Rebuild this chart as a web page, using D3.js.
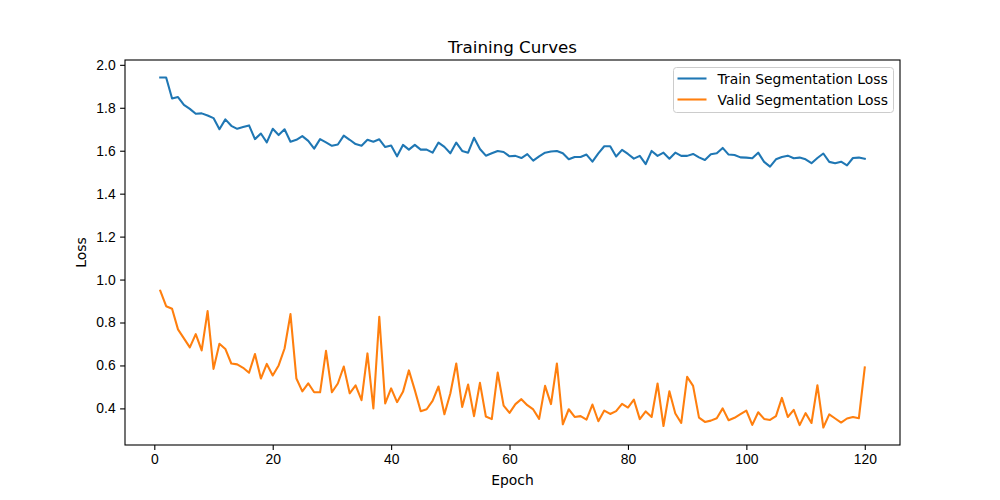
<!DOCTYPE html>
<html>
<head>
<meta charset="utf-8">
<script src="https://cdn.jsdelivr.net/npm/d3@7"></script>
<style>
  body { margin: 0; background: #fff; }
  svg { font-family: "DejaVu Sans", sans-serif; }
  .axis path, .axis line { stroke: #000; stroke-width: 1.1px; }
  .axis text { font-size: 13.9px; fill: #000; }
</style>
</head>
<body>
<div id="chart-area"></div>
<script>
// values, epochs 1..120
const epochs = d3.range(1, 121);

const trainLoss = [
  1.941, 1.941, 1.843, 1.850, 1.814, 1.795, 1.772, 1.774, 1.764, 1.752,
  1.700, 1.746, 1.716, 1.702, 1.710, 1.718, 1.654, 1.680, 1.639, 1.702,
  1.673, 1.700, 1.642, 1.651, 1.668, 1.646, 1.610, 1.654, 1.639, 1.623,
  1.629, 1.670, 1.651, 1.631, 1.623, 1.651, 1.642, 1.653, 1.617, 1.624,
  1.574, 1.627, 1.605, 1.627, 1.605, 1.605, 1.591, 1.638, 1.618, 1.588,
  1.638, 1.599, 1.591, 1.660, 1.608, 1.577, 1.588, 1.599, 1.594, 1.574,
  1.576, 1.566, 1.584, 1.554, 1.574, 1.591, 1.596, 1.599, 1.588, 1.560,
  1.571, 1.571, 1.582, 1.549, 1.588, 1.621, 1.621, 1.573, 1.604, 1.585,
  1.563, 1.576, 1.538, 1.599, 1.576, 1.591, 1.563, 1.591, 1.576, 1.576,
  1.585, 1.569, 1.557, 1.584, 1.588, 1.613, 1.582, 1.580, 1.569, 1.568,
  1.565, 1.591, 1.548, 1.526, 1.560, 1.571, 1.577, 1.565, 1.568, 1.560,
  1.542, 1.566, 1.587, 1.548, 1.542, 1.549, 1.532, 1.566, 1.568, 1.562
];

const validLoss = [
  0.948, 0.876, 0.864, 0.768, 0.726, 0.684, 0.746, 0.670, 0.853, 0.584,
  0.701, 0.677, 0.609, 0.605, 0.589, 0.566, 0.653, 0.539, 0.607, 0.553,
  0.600, 0.679, 0.839, 0.539, 0.479, 0.517, 0.475, 0.475, 0.668, 0.475,
  0.516, 0.595, 0.470, 0.507, 0.438, 0.656, 0.400, 0.827, 0.423, 0.493,
  0.429, 0.477, 0.577, 0.485, 0.387, 0.396, 0.435, 0.502, 0.373, 0.469,
  0.609, 0.407, 0.511, 0.364, 0.519, 0.362, 0.350, 0.567, 0.413, 0.379,
  0.420, 0.443, 0.415, 0.395, 0.351, 0.505, 0.420, 0.609, 0.326, 0.396,
  0.360, 0.364, 0.348, 0.418, 0.340, 0.390, 0.374, 0.387, 0.421, 0.404,
  0.441, 0.350, 0.386, 0.360, 0.516, 0.318, 0.480, 0.376, 0.332, 0.547,
  0.505, 0.357, 0.337, 0.343, 0.354, 0.400, 0.345, 0.356, 0.373, 0.390,
  0.323, 0.382, 0.351, 0.346, 0.364, 0.449, 0.360, 0.393, 0.322, 0.378,
  0.332, 0.508, 0.311, 0.372, 0.353, 0.334, 0.353, 0.360, 0.354, 0.591
];

const seriesNames = ["Train Segmentation Loss", "Valid Segmentation Loss"];
const seriesColors = ["#1f77b4", "#ff7f0e"];
const xTicks = [0, 20, 40, 60, 80, 100, 120];
const yTicks = [0.4, 0.6, 0.8, 1.0, 1.2, 1.4, 1.6, 1.8, 2.0];

let width = 1000, height = 500;
let margin = {top: 60, right: 100, bottom: 55, left: 125};

let svg = d3.select("#chart-area").append("svg")
  .attr("width", width)
  .attr("height", height);

// matplotlib style 5% margins around the data
let xPad = (d3.max(epochs) - d3.min(epochs)) * 0.05;
let allLoss = trainLoss.concat(validLoss);
let yPad = (d3.max(allLoss) - d3.min(allLoss)) * 0.05;

let x = d3.scaleLinear()
  .domain([d3.min(epochs) - xPad, d3.max(epochs) + xPad])
  .range([margin.left, width - margin.right]);

let y = d3.scaleLinear()
  .domain([d3.min(allLoss) - yPad, d3.max(allLoss) + yPad])
  .range([height - margin.bottom, margin.top]);

let line = d3.line()
  .x((d, i) => x(epochs[i]))
  .y(d => y(d));

[trainLoss, validLoss].forEach((s, k) => {
  svg.append("path")
    .datum(s)
    .attr("fill", "none")
    .attr("stroke", seriesColors[k])
    .attr("stroke-width", 2.08)
    .attr("stroke-linejoin", "round")
    .attr("stroke-linecap", "square")
    .attr("d", line);
});

// axes
let xAxis = d3.axisBottom(x).tickValues(xTicks).tickSize(4.9).tickPadding(4).tickFormat(d3.format("d"));
svg.append("g")
  .attr("class", "axis")
  .attr("transform", "translate(0," + (height - margin.bottom) + ")")
  .call(xAxis)
  .call(g => g.select(".domain").remove());

let yAxis = d3.axisLeft(y).tickValues(yTicks).tickSize(4.9).tickPadding(4.5).tickFormat(d3.format(".1f"));
svg.append("g")
  .attr("class", "axis")
  .attr("transform", "translate(" + margin.left + ",0)")
  .call(yAxis)
  .call(g => g.select(".domain").remove());

// frame
svg.append("rect")
  .attr("x", margin.left)
  .attr("y", margin.top)
  .attr("width", width - margin.left - margin.right)
  .attr("height", height - margin.top - margin.bottom)
  .attr("fill", "none")
  .attr("stroke", "#000")
  .attr("stroke-width", 1.1);

// title and labels
svg.append("text")
  .attr("x", (margin.left + width - margin.right) / 2)
  .attr("y", margin.top - 7)
  .attr("text-anchor", "middle")
  .style("font-size", "16.7px")
  .text("Training Curves");

svg.append("text")
  .attr("x", (margin.left + width - margin.right) / 2)
  .attr("y", height - 15)
  .attr("text-anchor", "middle")
  .style("font-size", "13.9px")
  .text("Epoch");

svg.append("text")
  .attr("transform", "translate(86," + ((margin.top + height - margin.bottom) / 2) + ") rotate(-90)")
  .attr("text-anchor", "middle")
  .style("font-size", "13.9px")
  .text("Loss");

// legend
let lg = svg.append("g").attr("transform", "translate(673.5,67.5)");
lg.append("rect")
  .attr("width", 220)
  .attr("height", 45)
  .attr("rx", 3)
  .attr("fill", "#fff")
  .attr("fill-opacity", 0.8)
  .attr("stroke", "#cccccc")
  .attr("stroke-width", 1);

seriesNames.forEach((name, k) => {
  let yy = 11 + k * 21;
  lg.append("line")
    .attr("x1", 4).attr("x2", 33)
    .attr("y1", yy).attr("y2", yy)
    .attr("stroke", seriesColors[k])
    .attr("stroke-width", 2.08);
  lg.append("text")
    .attr("x", 44)
    .attr("y", yy + 5)
    .style("font-size", "13.9px")
    .text(name);
});
</script>
</body>
</html>
